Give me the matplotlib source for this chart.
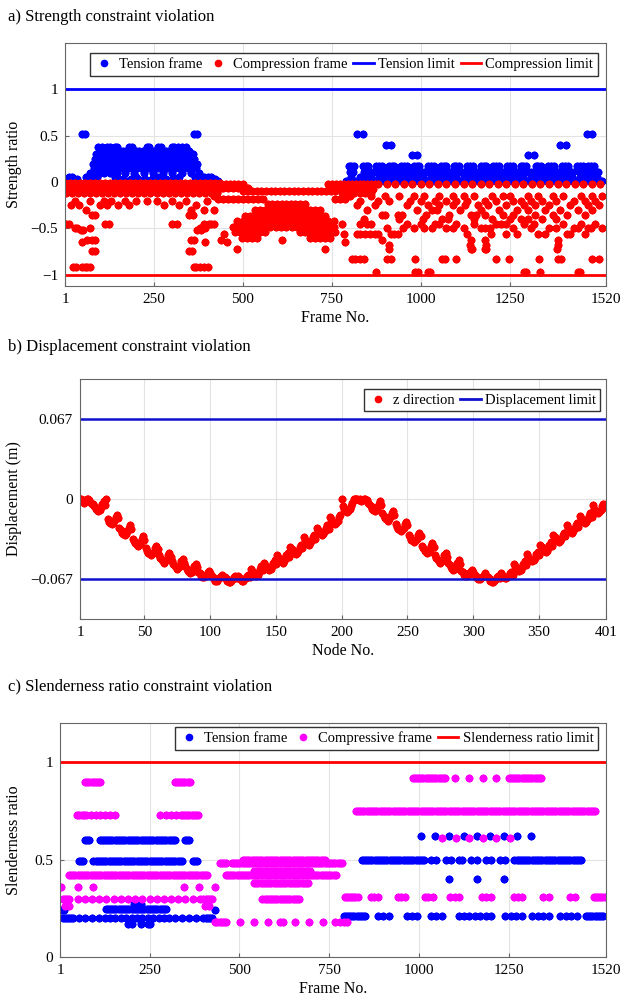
import matplotlib
matplotlib.use("Agg")
import matplotlib.pyplot as plt
from matplotlib.lines import Line2D
import numpy as np

plt.rcParams['font.family'] = ['Liberation Serif', 'DejaVu Serif']
plt.rcParams['axes.unicode_minus'] = True

# ---------------- a) strength ratio ----------------
# scattered points: one level, list of frame numbers
a_ten_levels = [0.52, 0.40, 0.38, 0.34, 0.30, 0.29, 0.25, 0.20, 0.17, 0.15, 0.11, 0.10, 0.06, 0.03, 0.01]
a_ten_frames = [
    [50, 58, 362, 371, 822, 838, 1466, 1482],
    [902, 916, 1392, 1408],
    [95, 104, 118, 126, 140, 148, 180, 188, 230, 238, 262, 270, 300, 308, 318, 330, 340],
    [100, 155, 165, 200, 210, 220, 245, 255, 285, 295, 335, 350],
    [88, 96, 108, 120, 132, 145, 160, 172, 185, 198, 212, 226, 240, 252, 266, 280, 292, 306, 320, 334, 348, 360],
    [976, 990, 1302, 1318],
    [84, 92, 104, 115, 128, 140, 152, 166, 178, 192, 206, 218, 232, 246, 258, 272, 286, 298, 312, 326, 338, 352, 364],
    [80, 90, 100, 112, 124, 136, 148, 160, 172, 184, 196, 208, 220, 232, 244, 256, 268, 280, 292, 304, 316, 328, 340, 352, 364, 372],
    [797, 805, 813, 837, 845, 853, 874, 882, 890, 910, 918, 926, 944, 952, 960, 980, 988, 996, 1020, 1028, 1036,
     1056, 1064, 1072, 1092, 1100, 1108, 1131, 1139, 1147, 1168, 1176, 1184, 1204, 1212, 1220, 1243, 1251, 1259,
     1280, 1288, 1296, 1322, 1330, 1338, 1358, 1366, 1374, 1397, 1405, 1413, 1439, 1447, 1455, 1470, 1478, 1486],
    [82, 94, 106, 118, 130, 142, 154, 166, 178, 190, 202, 214, 226, 238, 250, 262, 274, 286, 298, 310, 322, 334, 346, 358, 370],
    [801, 809, 841, 849, 866, 878, 886, 898, 914, 922, 935, 948, 956, 970, 984, 992, 1008, 1024, 1032, 1046,
     1060, 1068, 1082, 1096, 1104, 1120, 1135, 1143, 1158, 1172, 1180, 1194, 1208, 1216, 1232, 1247, 1255, 1270,
     1284, 1292, 1310, 1326, 1334, 1348, 1362, 1370, 1386, 1401, 1409, 1425, 1443, 1451, 1462, 1474, 1482, 1498],
    [70, 86, 98, 110, 126, 146, 170, 195, 222, 248, 276, 302, 330, 356, 376],
    [12, 22, 60, 70, 80, 92, 140, 200, 260, 320, 366, 380, 392, 402, 410,
     805, 830, 845, 860, 882, 900, 918, 935, 952, 970, 988, 1005, 1028, 1046, 1064, 1082, 1100, 1120, 1139, 1158,
     1176, 1194, 1212, 1232, 1251, 1270, 1288, 1310, 1330, 1348, 1366, 1386, 1405, 1425, 1447, 1462, 1478, 1495],
    [1, 8, 16, 26, 34, 150, 165, 185, 205, 225, 245, 265, 285, 305, 388, 398, 414, 422],
    [5, 20, 175, 190, 215, 235, 255, 275, 295, 315, 430,
     790, 800, 812, 824, 836, 850, 862, 872, 886, 896, 908, 922, 932, 944, 958, 968, 980, 994, 1004, 1016, 1030,
     1040, 1052, 1066, 1076, 1088, 1102, 1112, 1124, 1138, 1148, 1160, 1174, 1184, 1196, 1210, 1220, 1232, 1246,
     1256, 1268, 1282, 1292, 1304, 1318, 1328, 1340, 1354, 1364, 1376, 1390, 1400, 1412, 1426, 1436, 1448, 1462,
     1472, 1484, 1498, 1508],
]

a_comp_levels = [-0.15, -0.2, -0.25, -0.3, -0.35, -0.4, -0.45, -0.5, -0.52, -0.56, -0.62, -0.65, -0.68, -0.72,
                 -0.74, -0.83, -0.91, -0.97]
a_comp_frames = [
    [420, 800, 860, 900, 940, 980, 1010, 1050, 1090, 1120, 1150, 1200, 1230, 1250, 1300, 1330, 1370, 1400, 1450, 1480, 1510],
    [30, 70, 110, 130, 170, 200, 230, 260, 300, 340, 400,
     830, 880, 910, 970, 1000, 1040, 1070, 1100, 1130, 1180, 1210, 1260, 1280, 1310, 1340, 1380, 1430, 1460, 1490],
    [18, 40, 100, 120, 150, 180, 280, 320, 370,
     820, 870, 960, 1020, 1050, 1090, 1125, 1160, 1190, 1240, 1290, 1320, 1360, 1420, 1470, 1500],
    [60, 355, 390, 420, 850, 990, 1030, 1045, 1110, 1170, 1220, 1270, 1300, 1350, 1390, 1440, 1480],
    [78, 86, 350, 360, 892, 900, 936, 946, 1015, 1080, 1140, 1155, 1180, 1230, 1260, 1320, 1372, 1410, 1460],
    [840, 940, 1005, 1060, 1075, 1150, 1200, 1250, 1280, 1300, 1340, 1380],
    [5, 12, 112, 125, 300, 315, 392, 404, 412, 420, 780,
     828, 848, 860, 960, 1000, 1040, 1050, 1100, 1150, 1210, 1225, 1240, 1290, 1318, 1400, 1450, 1490],
    [28, 36, 70, 380, 395, 904, 950, 980, 1010, 1030, 1070, 1090, 1120, 1170, 1180, 1195, 1260, 1310, 1360, 1380,
     1430, 1440, 1468, 1478, 1510],
    [45, 52, 372, 382],
    [448, 784, 822, 830, 842, 858, 870, 880, 915, 925, 935, 1130, 1198, 1240, 1270, 1330, 1350, 1410, 1420, 1460],
    [62, 76, 84, 355, 363, 440, 610, 890, 1140, 1180, 1384],
    [48, 395, 455, 786],
    [912, 1138, 1182, 1384],
    [484, 732, 910, 1140, 1144, 1180, 1184, 1382],
    [76, 86, 348, 358],
    [806, 814, 830, 840, 905, 916, 985, 1060, 1068, 1100, 1210, 1248, 1332, 1386, 1394, 1480, 1500],
    [24, 32, 48, 56, 64, 72, 362, 370, 380, 392, 402],
    [874, 984, 992, 1020, 1025, 1290, 1294, 1334, 1440, 1448],
]
# runs of consecutive compression frames: start, end, level, spacing of the plotted frames
a_run_start = [1, 440, 500, 740, 880, 8, 430, 746, 3, 780, 430, 760, 570, 535, 505, 485, 472, 478, 660, 498, 690]
a_run_end = [440, 500, 760, 880, 1520, 440, 520, 880, 440, 860, 560, 800, 680, 720, 740, 758, 768, 570, 768, 545, 752]
a_run_level = [-0.01, -0.02, -0.10, -0.02, -0.02, -0.06, -0.06, -0.07, -0.12, -0.12, -0.18, -0.18,
               -0.24, -0.30, -0.36, -0.42, -0.48, -0.54, -0.54, -0.60, -0.60]
a_run_step = [14, 12, 13, 11, 24, 16, 14, 15, 17, 16, 14, 14, 13, 14, 15, 15, 15, 14, 14, 14, 14]

# ---------------- b) displacement (mm) ----------------
b_disp_mm = [
    0, 0, -1, -3, -2, 0, 0, -1, -3, -4,
    -4, -6, -8, -9, -10, -9, -7, -4, -2, -5,
    0, -17, -19, -20, -21, -20, -18, -15, -13, -16,
    -24, -26, -28, -29, -30, -29, -27, -24, -22, -25,
    -33, -35, -37, -38, -39, -38, -36, -33, -31, -34,
    -41, -43, -45, -46, -47, -46, -44, -41, -39, -42,
    -47, -49, -51, -52, -53, -52, -50, -47, -45, -48,
    -52, -54, -56, -57, -58, -57, -55, -52, -50, -53,
    -56, -58, -60, -61, -62, -61, -59, -56, -54, -57,
    -61, -62, -64, -65, -65, -64, -63, -61, -60, -62,
    -64, -65, -67, -68, -68, -67, -66, -64, -63, -65,
    -65, -66, -68, -69, -69, -68, -67, -65, -64, -66,
    -64, -65, -67, -68, -68, -67, -66, -64, -63, -65,
    -58, -60, -62, -63, -64, -63, -61, -58, -56, -59,
    -53, -55, -57, -58, -59, -58, -56, -53, -51, -54,
    -47, -49, -51, -52, -53, -52, -50, -47, -45, -48,
    -40, -42, -44, -45, -46, -45, -43, -40, -38, -41,
    -32, -34, -36, -37, -38, -37, -35, -32, -30, -33,
    -24, -26, -28, -29, -30, -29, -27, -24, -22, -25,
    -15, -17, -19, -20, -21, -20, -18, -15, -13, 0,
    -6, -8, -10, -11, -10, -8, -6, -3, 0, 0,
    0, 0, -1, 0, -2, -1, 0, 0, -1, -3,
    -4, -6, -8, -9, -10, -9, -7, -4, -2, -5,
    -12, -14, -16, -17, -18, -17, -15, -12, -10, -13,
    -21, -23, -25, -26, -27, -26, -24, -21, -19, -22,
    -30, -32, -34, -35, -36, -35, -33, -30, -28, -31,
    -39, -41, -43, -44, -45, -44, -42, -39, -37, -40,
    -47, -49, -51, -52, -53, -52, -50, -47, -45, -48,
    -53, -55, -57, -58, -59, -58, -56, -53, -51, -54,
    -60, -61, -63, -64, -64, -63, -62, -60, -59, -61,
    -63, -64, -66, -67, -67, -66, -65, -63, -62, -64,
    -65, -66, -68, -69, -69, -68, -67, -65, -64, -66,
    -62, -63, -65, -66, -66, -65, -64, -62, -61, -63,
    -54, -56, -58, -59, -60, -59, -57, -54, -52, -55,
    -46, -48, -50, -51, -52, -51, -49, -46, -44, -47,
    -38, -40, -42, -43, -44, -43, -41, -38, -36, -39,
    -30, -32, -34, -35, -36, -35, -33, -30, -28, -31,
    -22, -24, -26, -27, -28, -27, -25, -22, -20, -23,
    -14, -16, -18, -19, -20, -19, -17, -14, -12, -15,
    -5, -8, -10, -11, -12, -11, -9, -6, -4, -7,
    -4,
]
b_limit = 0.067

# ---------------- c) slenderness ratio ----------------
c_ten_levels = [0.20, 0.24, 0.27, 0.17, 0.21, 0.50, 0.40, 0.62]
c_ten_frames = [
    [55, 70, 90, 110, 125, 140, 155, 170, 185, 200, 215, 230, 245, 260, 275, 290, 305, 320, 340, 360, 380],
    [433],
    [208, 215, 225],
    [190, 200, 225, 245, 250],
    [885, 900, 915, 965, 980, 995, 1032, 1048, 1064, 1110, 1125, 1140, 1155, 1170, 1185, 1200, 1240, 1255, 1270,
     1285, 1315, 1330, 1345, 1360, 1393, 1408, 1423, 1438],
    [1032, 1048, 1075, 1090, 1110, 1120, 1145, 1160, 1185, 1200, 1225, 1240],
    [1084, 1160, 1237],
    [1005, 1045, 1084, 1124, 1160, 1197, 1237, 1273, 1311],
]
c_ten_run_start = [1, 128, 8, 400, 54, 94, 371, 71, 111, 349, 790, 1464, 840, 1265]
c_ten_run_end = [14, 300, 40, 425, 71, 343, 383, 88, 326, 366, 852, 1515, 1016, 1455]
c_ten_run_level = [0.24, 0.245, 0.20, 0.20, 0.49, 0.49, 0.49, 0.60, 0.60, 0.60, 0.21, 0.21, 0.50, 0.50]

c_comp_levels = [0.30, 0.26, 0.36, 0.73, 0.18, 0.92, 0.61, 0.31]
c_comp_frames = [
    [50, 70, 90, 110, 130, 150, 170, 190, 210, 230, 250, 270, 290, 310, 330, 350, 370, 390],
    [15, 25, 405, 415],
    [3, 51, 92, 345, 388, 433],
    [88, 100, 112, 125, 140, 155, 280, 295, 310, 325],
    [501, 541, 580, 612, 620, 654, 694, 733, 767, 780, 790, 800],
    [1100, 1140, 1177, 1215],
    [1065, 1102, 1140, 1177, 1215, 1252],
    [865, 875, 885, 940, 950, 960, 1015, 1025, 1040, 1085, 1100, 1110, 1175, 1185, 1200, 1265, 1275, 1285,
     1345, 1360, 1420, 1435],
]
c_comp_run_start = [9, 400, 26, 49, 337, 71, 320, 445, 479, 510, 462, 540, 541, 564, 433, 982, 1249, 824, 793, 1486]
c_comp_run_end = [32, 428, 410, 77, 388, 116, 366, 467, 790, 740, 773, 700, 694, 671, 467, 1073, 1339, 1492, 829, 1520]
c_comp_run_level = [0.30, 0.30, 0.42, 0.73, 0.73, 0.90, 0.90, 0.48, 0.48, 0.50, 0.42, 0.44, 0.38, 0.30, 0.18,
                    0.92, 0.92, 0.75, 0.31, 0.31]


def collect(levels, frames, run_start=(), run_end=(), run_level=(), run_step=None):
    xs, ys = [], []
    for lev, fr in zip(levels, frames):
        xs += list(fr)
        ys += [lev] * len(fr)
    if run_step is None:
        run_step = [6] * len(run_start)
    for s, e, lev, st in zip(run_start, run_end, run_level, run_step):
        f = np.arange(s, e + 1, st)
        xs += list(f)
        ys += [lev] * len(f)
    return np.array(xs), np.array(ys)


MK = dict(linestyle='none', marker=(8, 2, 0), markersize=5.5, markeredgewidth=1.6)
GRID = '#e3e3e3'


def style(ax):
    ax.grid(True, color=GRID, linewidth=0.8)
    ax.set_axisbelow(True)
    for s in ax.spines.values():
        s.set_color('#666666')
        s.set_linewidth(0.8)
    ax.tick_params(direction='in', length=3, color='#666666', labelsize=11, pad=5)


def dot(color):
    return Line2D([], [], linestyle='none', marker='o', markersize=4.5, color=color)


def bar(color):
    return Line2D([], [], color=color, linewidth=2)


LEG = dict(fontsize=10.5, fancybox=False, edgecolor='#333333', framealpha=1, handlelength=1.4,
           handletextpad=0.3, columnspacing=0.4, borderpad=0.3, borderaxespad=0.2)

fig = plt.figure(figsize=(6.33, 10.06), dpi=100)

# ---- panel a
ax = fig.add_axes([0.1027, 0.7157, 0.8547, 0.2416])
style(ax)
tx, ty = collect(a_ten_levels, a_ten_frames)
cx, cy = collect(a_comp_levels, a_comp_frames, a_run_start, a_run_end, a_run_level, a_run_step)
ax.plot(tx, ty, color='blue', **MK)
ax.plot(cx, cy, color='red', **MK)
ax.axhline(1, color='blue', linewidth=2)
ax.axhline(-1, color='red', linewidth=2)
ax.set_xlim(1, 1520)
ax.set_ylim(-1.12, 1.5)
ax.set_xticks([1, 250, 500, 750, 1000, 1250, 1520])
ax.set_yticks([-1, -0.5, 0, 0.5, 1])
ax.set_yticklabels(['\u22121', '\u22120.5', '0', '0.5', '1'])
ax.set_xlabel('Frame No.', fontsize=11.5, labelpad=3)
ax.set_ylabel('Strength ratio', fontsize=11.5)
ax.yaxis.set_label_coords(-0.08, 0.5)
ax.legend([dot('blue'), dot('red'), bar('blue'), bar('red')],
          ['Tension frame', 'Compression frame', 'Tension limit', 'Compression limit'],
          ncol=4, loc='upper right', bbox_to_anchor=(0.99, 0.97), **LEG)
fig.text(0.0126, 0.983, 'a) Strength constraint violation', fontsize=12, va='center')

# ---- panel b
ax = fig.add_axes([0.1264, 0.3847, 0.8310, 0.2386])
style(ax)
nodes = np.arange(1, len(b_disp_mm) + 1)
ax.plot(nodes, np.array(b_disp_mm) / 1000.0, color='red', **MK)
ax.axhline(b_limit, color='#1010d0', linewidth=1.8)
ax.axhline(-b_limit, color='#1010d0', linewidth=1.8)
ax.set_xlim(1, 401)
ax.set_ylim(-0.1, 0.1)
ax.set_xticks([1, 50, 100, 150, 200, 250, 300, 350, 401])
ax.set_yticks([-b_limit, 0, b_limit])
ax.set_yticklabels(['\u22120.067', '0', '0.067'])
ax.set_xlabel('Node No.', fontsize=11.5, labelpad=3)
ax.set_ylabel('Displacement (m)', fontsize=11.5)
ax.yaxis.set_label_coords(-0.11, 0.5)
ax.legend([dot('red'), bar('#1010d0')], ['z direction', 'Displacement limit'],
          ncol=2, loc='upper right', bbox_to_anchor=(0.995, 0.97), **LEG)
fig.text(0.0126, 0.655, 'b) Displacement constraint violation', fontsize=12, va='center')

# ---- panel c
ax = fig.add_axes([0.0948, 0.0487, 0.8626, 0.2326])
style(ax)
tx, ty = collect(c_ten_levels, c_ten_frames, c_ten_run_start, c_ten_run_end, c_ten_run_level)
cx, cy = collect(c_comp_levels, c_comp_frames, c_comp_run_start, c_comp_run_end, c_comp_run_level)
ax.plot(tx, ty, color='blue', **MK)
ax.plot(cx, cy, color='magenta', **MK)
ax.axhline(1, color='red', linewidth=2)
ax.set_xlim(1, 1520)
ax.set_ylim(0, 1.2)
ax.set_xticks([1, 250, 500, 750, 1000, 1250, 1520])
ax.set_yticks([0, 0.5, 1])
ax.set_yticklabels(['0', '0.5', '1'])
ax.set_xlabel('Frame No.', fontsize=11.5, labelpad=3)
ax.set_ylabel('Slenderness ratio', fontsize=11.5)
ax.yaxis.set_label_coords(-0.07, 0.5)
ax.legend([dot('blue'), dot('magenta'), bar('red')],
          ['Tension frame', 'Compressive frame', 'Slenderness ratio limit'],
          ncol=3, loc='upper right', bbox_to_anchor=(0.99, 0.995), **LEG)
fig.text(0.0126, 0.318, 'c) Slenderness ratio constraint violation', fontsize=12, va='center')

fig.savefig('out.png', dpi=100)
